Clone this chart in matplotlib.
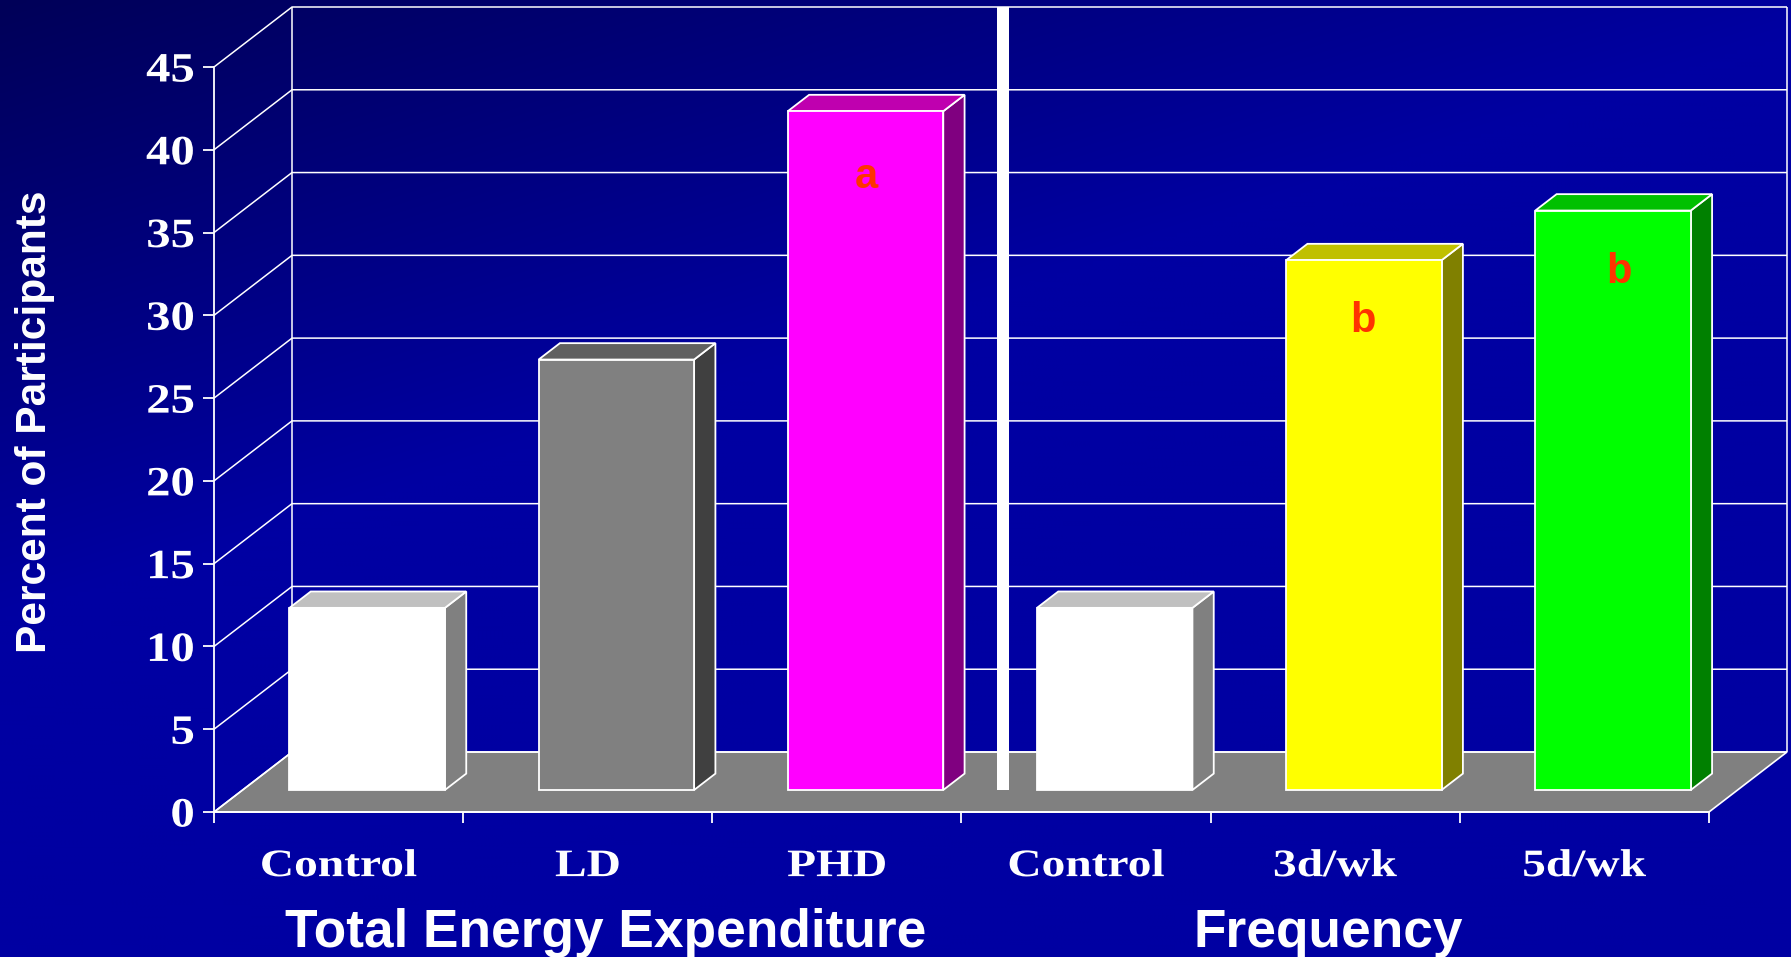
import numpy as np
import matplotlib
matplotlib.use("Agg")
import matplotlib.pyplot as plt
from matplotlib.patches import Polygon, Rectangle
from matplotlib.patheffects import AbstractPathEffect
from matplotlib.transforms import Affine2D

# Chart data
categories = ["Control", "LD", "PHD", "Control", "3d/wk", "5d/wk"]
percent = [11, 26, 41, 11, 32, 35]
letters = ["", "", "a", "", "b", "b"]
y_ticks = [0, 5, 10, 15, 20, 25, 30, 35, 40, 45]
group_titles = ["Total Energy Expenditure", "Frequency"]
y_title = "Percent of Participants"

# Bar colours: front, top and side faces
front_colors = ["#FFFFFF", "#808080", "#FF00FF", "#FFFFFF", "#FFFF00", "#00FF00"]
top_colors = ["#C0C0C0", "#606060", "#BF00AF", "#C0C0C0", "#C0C000", "#00C000"]
side_colors = ["#808080", "#404040", "#800080", "#808080", "#808000", "#008000"]
letter_shift = [0, 0, 1, 0, -1, 6]     # horizontal nudge of each letter, pixels
letter_drop = [0, 0, 77, 0, 72, 72]    # baseline distance below the bar top, pixels

W, H = 1791, 957
LEFT, RIGHT, BOTTOM, TOP = 214, 1709, 812, 67   # front plane, in pixels


class StretchX(AbstractPathEffect):
    """Widen glyph outlines about their centre or right edge."""

    def __init__(self, factor, anchor="center"):
        super().__init__()
        self.factor = factor
        self.anchor = anchor

    def draw_path(self, renderer, gc, tpath, affine, rgbFace=None):
        box = tpath.get_extents()
        pivot = box.x1 if self.anchor == "right" else (box.x0 + box.x1) / 2
        widen = Affine2D().translate(-pivot, 0).scale(self.factor, 1).translate(pivot, 0)
        renderer.draw_path(gc, tpath, widen + affine, rgbFace)


fig = plt.figure(figsize=(W / 100, H / 100), dpi=100)

# Backdrop: navy in the upper-left corner, running to a flat royal blue
bg = fig.add_axes([0, 0, 1, 1], zorder=0)
yy, xx = np.mgrid[0:1:240j, 0:1:448j]
t = np.clip(0.95 * xx + 1.55 * yy, 0, 1)
rgb = np.zeros(t.shape + (3,))
rgb[..., 2] = (0x58 + (0xA2 - 0x58) * t) / 255
bg.imshow(rgb, aspect="auto", extent=(0, 1, 0, 1), origin="upper", interpolation="bilinear")
bg.axis("off")

ax = fig.add_axes([LEFT / W, 1 - BOTTOM / H, (RIGHT - LEFT) / W, (BOTTOM - TOP) / H], zorder=1)
ax.set_xlim(0, 6)
ax.set_ylim(0, 45)
ax.patch.set_alpha(0)

# Depth of the 3-D box, in data units
DX = 78 / ((RIGHT - LEFT) / 6)
DY = 60 / ((BOTTOM - TOP) / 45)


def project(x, y, d):
    return (x + d * DX, y + d * DY)


def poly(points, **kw):
    kw.setdefault("clip_on", False)
    ax.add_patch(Polygon(points, closed=True, **kw))


# Floor
poly([project(0, 0, 0), project(6, 0, 0), project(6, 0, 1), project(0, 0, 1)],
     facecolor="#808080", edgecolor="white", lw=1.2, zorder=1)

# Walls and gridlines
line = dict(color="white", lw=1.1, clip_on=False, zorder=1.2, solid_capstyle="butt")
for v in y_ticks:
    a, b, c = project(0, v, 0), project(0, v, 1), project(6, v, 1)
    ax.plot([a[0], b[0], c[0]], [a[1], b[1], c[1]], **line)
for x in (0, 6):
    a, b = project(x, 0, 1), project(x, 45, 1)
    ax.plot([a[0], b[0]], [a[1], b[1]], **line)

# Bars
BAR_W = 0.624
D0, D1 = 0.367, 0.64
edge = dict(edgecolor="white", lw=1.3, joinstyle="miter")
for i, v in enumerate(percent):
    x0 = i + 0.5 - BAR_W / 2
    x1 = i + 0.5 + BAR_W / 2
    poly([project(x1, 0, D0), project(x1, 0, D1), project(x1, v, D1), project(x1, v, D0)],
         facecolor=side_colors[i], zorder=2, **edge)
    poly([project(x0, v, D0), project(x1, v, D0), project(x1, v, D1), project(x0, v, D1)],
         facecolor=top_colors[i], zorder=2, **edge)
    poly([project(x0, 0, D0), project(x1, 0, D0), project(x1, v, D0), project(x0, v, D0)],
         facecolor=front_colors[i], zorder=2.1, **edge)
    if letters[i]:
        cx, cy = project(i + 0.5, v, D0)
        ax.annotate(letters[i], (cx, cy), xytext=(letter_shift[i] * 0.72, -letter_drop[i] * 0.72),
                    textcoords="offset points",
                    ha="center", va="baseline", color="#FF3300",
                    family="Liberation Sans", weight="bold", fontsize=30, zorder=3,
                    annotation_clip=False)

# Divider between the two panels of the chart
div_x = (1003 - LEFT) / ((RIGHT - LEFT) / 6)
div_w = 12 / ((RIGHT - LEFT) / 6)
ax.add_patch(Rectangle((div_x - div_w / 2, project(0, 0, D0)[1]), div_w, 45 + DY - project(0, 0, D0)[1],
                       facecolor="white", edgecolor="none", clip_on=False, zorder=2.5))

# Axes, ticks and tick labels
for s in ("top", "right"):
    ax.spines[s].set_visible(False)
for s in ("left", "bottom"):
    ax.spines[s].set_color("white")
    ax.spines[s].set_linewidth(1.3)
    ax.spines[s].set_zorder(2.6)

ax.set_yticks(y_ticks)
ax.tick_params(axis="y", direction="out", length=8, width=1.3, color="white", pad=6,
               labelcolor="white", labelsize=30)
ax.set_xticks(np.arange(0, 7))
ax.set_xticklabels([])
ax.set_xticks(np.arange(6) + 0.5, minor=True)
ax.set_xticklabels(categories, minor=True)
ax.tick_params(axis="x", which="major", direction="out", length=8, width=1.3, color="white")
ax.tick_params(axis="x", which="minor", length=0, pad=26, labelcolor="white", labelsize=28)
for lab in ax.get_yticklabels():
    lab.set_family("Liberation Serif")
    lab.set_weight("bold")
    lab.set_path_effects([StretchX(1.17, "right")])
for lab in ax.get_xticklabels(minor=True):
    lab.set_family("Liberation Serif")
    lab.set_weight("bold")
    lab.set_path_effects([StretchX(1.22)])

# Axis titles
title_font = dict(color="white", family="Liberation Sans", weight="bold")
fig.text(606 / W, 1 - 947 / H, group_titles[0], ha="center", va="baseline", fontsize=38.3, **title_font)
fig.text(1328 / W, 1 - 947 / H, group_titles[1], ha="center", va="baseline", fontsize=38.3, **title_font)
fig.text(35 / W, 1 - 422 / H, y_title, rotation=90, ha="center", va="center",
         rotation_mode="default", fontsize=30.6, **title_font)

fig.savefig("out.png", dpi=100)
